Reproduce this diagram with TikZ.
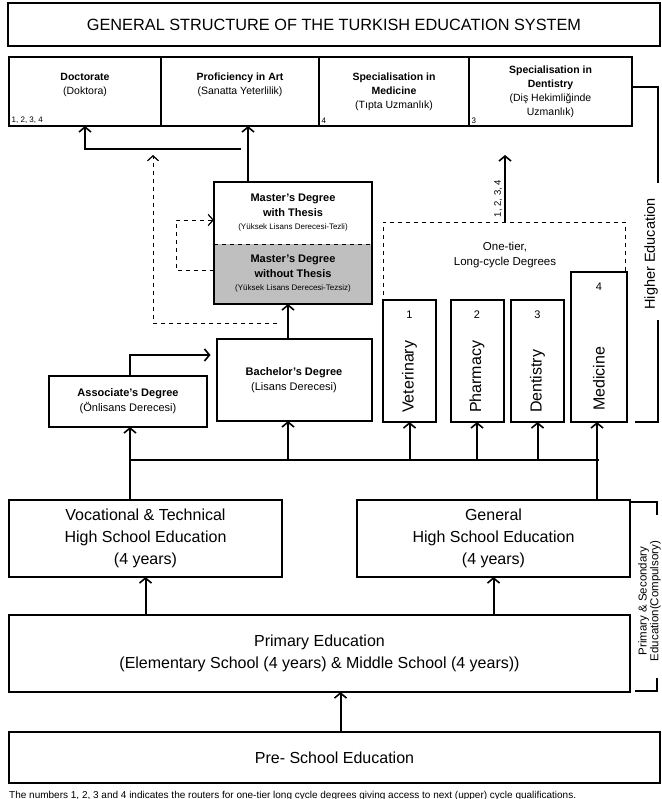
\documentclass[tikz,border=0pt]{standalone}
\usepackage{fontspec}
\setmainfont{Liberation Sans}
\usetikzlibrary{arrows.meta, positioning, fit}

\begin{document}
\begin{tikzpicture}[x=1pt, y=-1pt,
  box/.style={draw, line width=2pt, inner sep=0pt, outer sep=0pt, align=center},
  topbox/.style={box, minimum height=69pt, font=\fontsize{10.5}{14}\selectfont},
  bigbox/.style={box, minimum height=77pt, font=\fontsize{16}{22}\selectfont},
  degbox/.style={box, font=\fontsize{11}{15.5}\selectfont},
  tierbox/.style={box, minimum width=53pt, minimum height=122pt},
  tierlabel/.style={rotate=90, anchor=west, inner sep=0pt, font=\fontsize{16}{18}\selectfont},
  tiernum/.style={inner sep=0pt, font=\fontsize{11}{12}\selectfont},
  numlabel/.style={anchor=south west, inner sep=2.5pt, font=\fontsize{8}{9}\selectfont},
  line/.style={line width=2pt},
  arrow/.style={line width=2pt, -{Straight Barb[length=5pt, width=12pt, line width=1.6pt]}},
  dasharrow/.style={line width=0.9pt, dash pattern=on 4pt off 4pt,
                    -{Straight Barb[length=5pt, width=11pt, line width=1.2pt]}},
  dashline/.style={line width=0.9pt, dash pattern=on 4pt off 4pt}
]

\useasboundingbox (0,0) rectangle (661,799);

% title
\node[box, minimum width=652pt, minimum height=43pt, font=\fontsize{16.3}{18}\selectfont] (title) at (334,24.5)
  {GENERAL STRUCTURE OF THE TURKISH EDUCATION SYSTEM};

% third cycle
\node[topbox, minimum width=152pt] (doc) at (85,91.5) {\textbf{Doctorate}\\(Doktora)\\[2pt]};
\node[topbox, minimum width=158pt, right=0pt of doc] (prof) {\textbf{Proficiency in Art}\\(Sanatta Yeterlilik)\\[2pt]};
\node[topbox, minimum width=150pt, right=0pt of prof] (spmed) {\textbf{Specialisation in}\\\textbf{Medicine}\\(Tıpta Uzmanlık)};
\node[topbox, minimum width=163pt, right=0pt of spmed] (spdent) {\textbf{Specialisation in}\\\textbf{Dentistry}\\(Diş Hekimliğinde\\Uzmanlık)};
\node[numlabel] at (doc.south west) {1, 2, 3, 4};
\node[numlabel] at (spmed.south west) {4};
\node[numlabel] at (spdent.south west) {3};

% master's
\node[box, draw=none, minimum width=158pt, minimum height=62pt, font=\fontsize{11}{15}\selectfont] (mwith) at (293,213)
  {\textbf{Master's Degree}\\\textbf{with Thesis}\\[-2pt]{\fontsize{8}{10}\selectfont(Yüksek Lisans Derecesi-Tezli)}};
\node[box, draw=none, fill=black!25, minimum width=158pt, minimum height=60pt, font=\fontsize{11}{15}\selectfont] (mwithout) at (293,274)
  {\textbf{Master's Degree}\\\textbf{without Thesis}\\[-2pt]{\fontsize{8}{10}\selectfont(Yüksek Lisans Derecesi-Tezsiz)}};
\node[box, fit=(mwith)(mwithout)] (master) {};
\draw[dashline] (mwith.south west) -- (mwith.south east);

% first cycle
\node[degbox, minimum width=155pt, minimum height=82pt] (bach) at (294,380) {\textbf{Bachelor's Degree}\\(Lisans Derecesi)};
\node[degbox, minimum width=158pt, minimum height=51pt, font=\fontsize{11}{15}\selectfont] (assoc) at (128,401.5) {\textbf{Associate's Degree}\\(Önlisans Derecesi)};

% one-tier, long-cycle
\node[tierbox] (vet) at (409.5,361) {};
\node[tierbox] (pharm) at (477,361) {};
\node[tierbox] (dent) at (537.5,361) {};
\node[tierbox, minimum width=56pt, minimum height=150pt] (med) at (599,347) {};
\node[tierlabel] at ([yshift=9pt]vet.south) {Veterinary};
\node[tierlabel] at ([yshift=9pt]pharm.south) {Pharmacy};
\node[tierlabel] at ([yshift=9pt]dent.south) {Dentistry};
\node[tierlabel] at ([yshift=11pt]med.south) {Medicine};
\node[tiernum] at ([yshift=-15pt]vet.north) {1};
\node[tiernum] at ([yshift=-15pt]pharm.north) {2};
\node[tiernum] at ([yshift=-15pt]dent.north) {3};
\node[tiernum] at ([yshift=-15pt]med.north) {4};
\node[align=center, font=\fontsize{11.5}{15}\selectfont] (onetier) at (505,255) {One-tier,\\Long-cycle Degrees};

% secondary, primary, pre-school
\node[bigbox, minimum width=273pt] (voc) at (145.5,538.5) {Vocational \& Technical\\High School Education\\(4 years)};
\node[bigbox, minimum width=273pt] (gen) at (493.5,538.5) {General\\High School Education\\(4 years)};
\node[bigbox, minimum width=621pt] (prim) at (319.5,653.5) {Primary Education\\(Elementary School (4 years) \& Middle School (4 years))};
\node[bigbox, minimum width=651pt, minimum height=51pt] (pre) at (334.5,757.5) {Pre- School Education};

% helper points
\coordinate (docjoin) at (241,149);
\coordinate (dcorner) at (153,323);
\coordinate (dtop) at (153,155);
\coordinate (otl) at (383,222);
\coordinate (otr) at (625,222);
\coordinate (ottop) at (505,155);
\coordinate (bus) at (0,460);
\coordinate (he1) at (658,87);
\coordinate (he2) at (658,183);
\coordinate (he3) at (658,320);
\coordinate (hebot) at (635,422);
\coordinate (ps2) at (657,515);
\coordinate (ps3) at (657,678);
\coordinate (psbot) at (635,691);

% connectors
\draw[arrow] ([xshift=-45pt]master.north) -- ([xshift=-45pt]master.north |- prof.south);
\draw[arrow] (docjoin) -| (doc.south);
\draw[dasharrow] ([xshift=-17pt]bach.north |- dcorner) -- (dcorner) -- (dtop);
\draw[dasharrow] ([yshift=4pt]mwithout.west) -- ++(-38,0) |- ([yshift=-7pt]mwith.west);
\draw[arrow] ([xshift=-6pt]bach.north) -- ([xshift=-6pt]bach.north |- master.south);
\draw[arrow] ([xshift=2pt]assoc.north) |- ([xshift=-6pt, yshift=25pt]bach.west);

\draw[dashline] ([yshift=5pt]vet.north west) -- (otl) -- (otr) -- (otr |- med.north);
\draw[arrow] (otl -| ottop) -- (ottop)
  node[pos=0.35, above, rotate=90, inner sep=2pt, font=\fontsize{9.5}{10}\selectfont] {1, 2, 3, 4};

\draw[line] ([xshift=2pt]assoc.south |- bus) -- (med.south |- bus);
\draw[arrow] ([xshift=2pt]assoc.south |- voc.north) -- ([xshift=2pt]assoc.south);
\draw[arrow] ([xshift=-2pt]med.south |- gen.north) -- ([xshift=-2pt]med.south);
\draw[arrow] ([xshift=-6pt]bach.south |- bus) -- ([xshift=-6pt]bach.south);
\foreach \n in {vet, pharm, dent}
  \draw[arrow] (\n.south |- bus) -- (\n.south);

\draw[arrow] (voc.south |- prim.north) -- (voc.south);
\draw[arrow] (gen.south |- prim.north) -- (gen.south);
\draw[arrow] ([xshift=6pt]pre.north) -- ([xshift=6pt]pre.north |- prim.south);

% brackets
\draw[line] (spdent.east |- he1) -- (he1) -- (he2);
\draw[line] (he3) |- (hebot);
\node[rotate=90, font=\fontsize{14.5}{16}\selectfont] at (651,254) {Higher Education};
\draw[line] ([yshift=-2pt]gen.north east) -| (ps2);
\draw[line] (ps3) |- (psbot);
\node[rotate=90, align=center, inner sep=0pt, font=\fontsize{11.5}{10.5}\selectfont] at (649.5,601) {Primary \& Secondary\\Education(Compulsory)};

% note
\node[anchor=base west, inner sep=0pt, font=\fontsize{10}{11}\selectfont] at (9,798)
  {The numbers 1, 2, 3 and 4 indicates the routers for one-tier long cycle degrees giving access to next (upper) cycle qualifications.};

\end{tikzpicture}
\end{document}
